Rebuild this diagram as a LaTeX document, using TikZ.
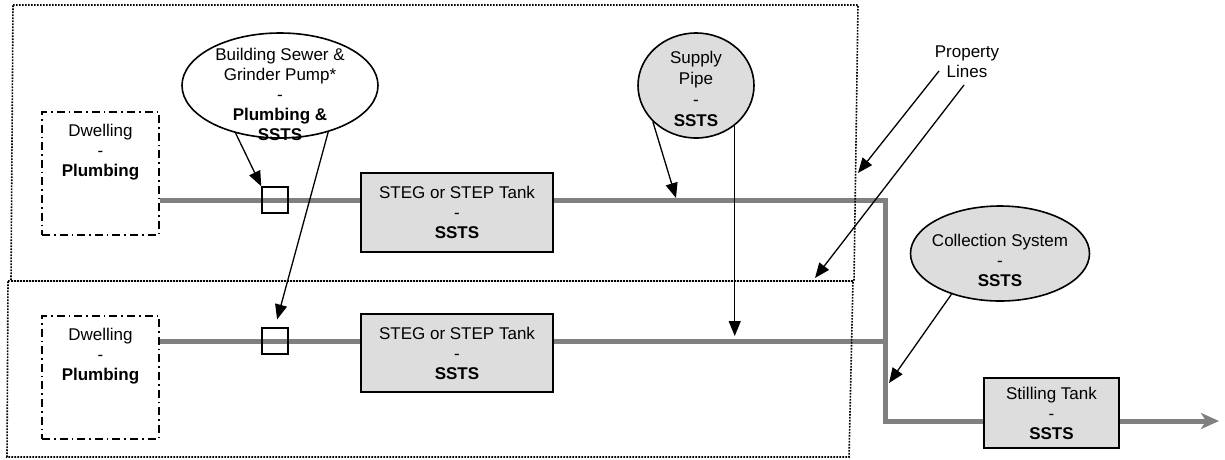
\documentclass[tikz,border=0pt]{standalone}
\usepackage{fontspec}
\setmainfont{Liberation Sans}
\usetikzlibrary{shapes.geometric,arrows.meta,calc,backgrounds}
\definecolor{pipegray}{HTML}{808080}
\definecolor{boxgray}{HTML}{DDDDDD}
\begin{document}
\begin{tikzpicture}[x=1pt,y=-1pt,
  every node/.style={font=\fontsize{17}{20}\selectfont, align=center, inner sep=0pt},
  propline/.style={line width=1.6pt, dash pattern=on 1.6pt off 1.4pt},
  dwellbox/.style={draw, line width=1.6pt, dash pattern=on 8pt off 4pt on 1.6pt off 4pt, minimum width=117pt, minimum height=123pt},
  tankbox/.style={draw, line width=1.6pt, fill=boxgray, rectangle},
  bubble/.style={draw, ellipse, line width=1.6pt},
  pipe/.style={draw=pipegray, line width=5pt},
  fitting/.style={draw, line width=1.6pt, minimum width=26pt, minimum height=26pt},
  callout/.style={draw, line width=1.3pt, -{Triangle[length=15pt,width=12pt]}},
]
\useasboundingbox (0,0) rectangle (1225,459);

% property lines
\draw[propline] (13,5) -- (858,5) -- (854,281) -- (11,281) -- cycle;
\draw[propline] (8,281) -- (853,281) -- (849,457) -- (7,457) -- cycle;

% dwellings
\node[dwellbox] (dw1) at (100.5,173.5) {};
\node (dw1t) at (100.5,152.5) {Dwelling\\-\\\textbf{Plumbing}};
\node[dwellbox] (dw2) at (100.5,377.5) {};
\node (dw2t) at (100.5,356.5) {Dwelling\\-\\\textbf{Plumbing}};

% tanks
\node[tankbox, minimum width=192pt, minimum height=79pt] (steg1) at (457,212.5) {STEG or STEP Tank\\-\\\textbf{SSTS}};
\node[tankbox, minimum width=192pt, minimum height=78pt] (steg2) at (457,353) {STEG or STEP Tank\\-\\\textbf{SSTS}};
\node[tankbox, minimum width=135pt, minimum height=70pt] (still) at (1051.5,413) {Stilling Tank\\-\\\textbf{SSTS}};

% fittings
\node[fitting] (sq1) at (275,200) {};
\node[fitting] (sq2) at (275,341) {};

% bubbles
\node[bubble, fill=white, minimum width=196pt, minimum height=105pt] (sewer) at (280,85.5) {};
\node (sewert) at (280,94) {Building Sewer \&\\Grinder Pump*\\-\\\textbf{Plumbing \&}\\\textbf{SSTS}};
\node[bubble, fill=boxgray, minimum width=116pt, minimum height=105pt] (supply) at (696,85.5) {};
\node[font=\fontsize{17}{21}\selectfont] (supplyt) at (696,89) {Supply\\Pipe\\-\\\textbf{SSTS}};
\node[bubble, fill=boxgray, minimum width=179pt, minimum height=95pt] (coll) at (1000,253.5) {};
\node (collt) at (1000,260.5) {Collection System\\-\\\textbf{SSTS}};
\node (prop) at (967,62) {Property\\Lines};

% coordinates
\coordinate (bend1) at (885,200);
\coordinate (bend2) at (885,421);
\coordinate (outlet) at (1219,421);
\coordinate (hit1) at (676,198);
\coordinate (hit2) at (733,336);
\coordinate (hit3) at (889,383);
\coordinate (pl1) at (858,173);
\coordinate (pl2) at (815,278);
\coordinate (pls1) at ($(prop.center)+(-28,9)$);
\coordinate (pls2) at ($(prop.center)+(-3,23)$);

% pipes
\begin{scope}[on background layer]
\draw[pipe] (dw1.east |- sq1.center) -- (steg1.west |- sq1.center);
\draw[pipe, line join=miter] (steg1.east |- sq1.center) -- (bend1) -- (bend2) -- (still.west |- bend2);
\draw[pipe] (dw2.east |- sq2.center) -- (steg2.west |- sq2.center);
\draw[pipe] (steg2.east |- sq2.center) -- (bend1 |- sq2.center);
\draw[pipe, -{Stealth[length=18pt,width=16pt,inset=5pt,fill=pipegray]}] (still.east |- bend2) -- (outlet);
\end{scope}

% callouts
\draw[callout] (sewer.227) -- (sq1.north west);
\draw[callout, shorten >=8pt] (sewer.316) -- (sq2.north);
\draw[callout] (supply.220) -- (hit1);
\draw[callout] (supply.314) -- (supply.314 |- hit2);
\draw[callout] (pls1) -- (pl1);
\draw[callout] (pls2) -- (pl2);
\draw[callout] (coll.220) -- (hit3);
\end{tikzpicture}
\end{document}
